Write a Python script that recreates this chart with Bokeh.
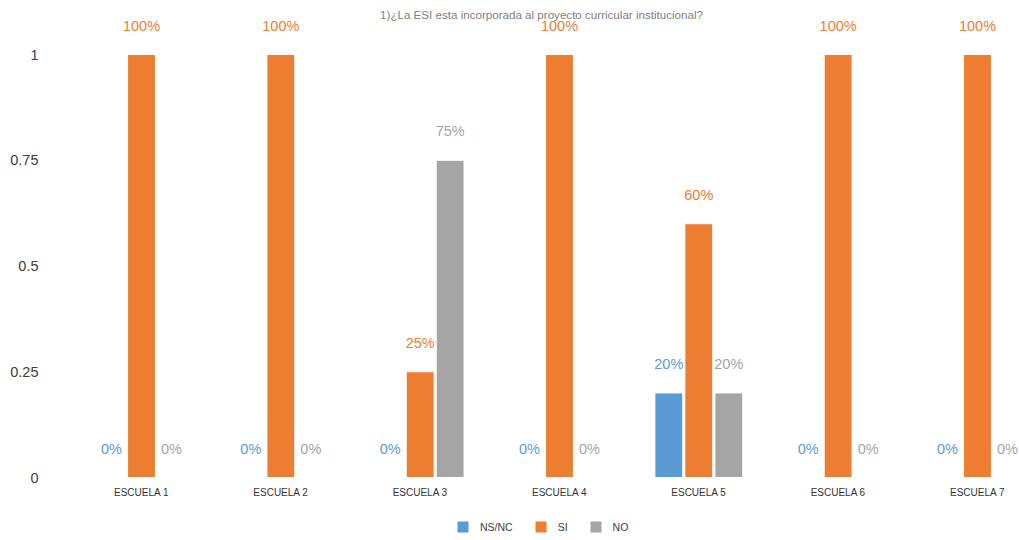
from bokeh.plotting import figure
from bokeh.models import ColumnDataSource, Range1d, FixedTicker, NumeralTickFormatter, Legend, LegendItem
from bokeh.core.properties import value
from bokeh.embed import file_html
from bokeh.resources import INLINE

FONT = "Liberation Sans"

categories = ["ESCUELA 1", "ESCUELA 2", "ESCUELA 3", "ESCUELA 4", "ESCUELA 5", "ESCUELA 6", "ESCUELA 7"]
series_names = ["NS/NC", "SI", "NO"]
ns_nc = [0, 0, 0, 0, 0.20, 0, 0]
si = [1, 1, 0.25, 1, 0.60, 1, 1]
no = [0, 0, 0.75, 0, 0.20, 0, 0]
series_values = [ns_nc, si, no]
colors = ["#5B9BD5", "#ED7D31", "#A5A5A5"]
y_ticks = [0, 0.25, 0.5, 0.75, 1]
title_text = "1)¿La ESI esta incorporada al proyecto curricular institucional?"

p = figure(width=1019, height=540, output_backend="svg", toolbar_location=None,
           x_range=Range1d(-0.5885, 6.3016), y_range=Range1d(-0.1489, 1.1277),
           x_axis_location=None, min_border_left=59, min_border_right=0,
           min_border_top=0, min_border_bottom=0)
p.outline_line_color = None
p.xgrid.visible = False
p.ygrid.visible = False

ax = p.yaxis[0]
ax.ticker = FixedTicker(ticks=y_ticks)
ax.formatter = NumeralTickFormatter(format="0.[00]")
ax.axis_line_color = None
ax.major_tick_line_color = None
ax.minor_tick_line_color = None
ax.major_label_standoff = 15
ax.major_label_text_font = FONT
ax.major_label_text_font_size = "14.5px"
ax.major_label_text_color = "#404040"

# title (drawn first so value labels sit on top of it)
p.text(x=[2.871], y=[1.0946], text=[title_text], text_align="center", text_baseline="middle",
       text_font=value(FONT), text_font_size="11.6px", text_color="#808080")

idx = list(range(len(categories)))
offsets = [-0.2153, 0.0, 0.2153]
items = []
for name, vals, col, off in zip(series_names, series_values, colors, offsets):
    src = ColumnDataSource(dict(
        x=[i + off for i in idx],
        top=vals,
        label=[f"{round(v * 100)}%" for v in vals],
    ))
    r = p.vbar(x="x", top="top", bottom=0, width=0.2, fill_color=col,
               line_color="white", line_width=1, source=src)
    p.text(x="x", y="top", text="label", source=src, text_align="center",
           text_baseline="middle", y_offset=-29, text_font=value(FONT),
           text_font_size="14.5px", text_color=col)
    items.append(LegendItem(label=name, renderers=[r]))

# category labels
p.text(x=idx, y=[0] * len(idx), text=categories, text_align="center", text_baseline="middle",
       y_offset=15, text_font=value(FONT), text_font_size="10px", text_color="#333333")

legend = Legend(items=items, orientation="horizontal", location=(396, 6), padding=0, margin=0,
                spacing=20, glyph_width=15, glyph_height=15, label_standoff=10,
                label_width=5, label_height=15, label_text_font=FONT,
                label_text_font_size="10.5px", label_text_color="#404040",
                border_line_color=None, background_fill_alpha=0)
p.add_layout(legend)

with open("out.html", "w", encoding="utf-8") as f:
    f.write(file_html(p, INLINE))
